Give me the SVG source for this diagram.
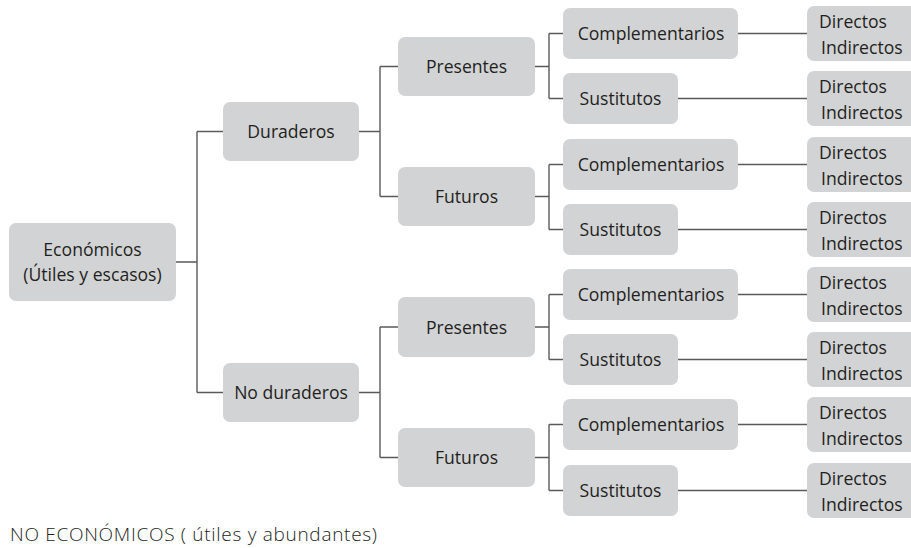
<svg xmlns="http://www.w3.org/2000/svg" width="911" height="548" viewBox="0 0 911 548">
<style>
.box{fill:#d2d3d5;}
.t{font-family:"Open Sans","Noto Sans","Liberation Sans",sans-serif;font-size:17.6px;fill:#231f20;}
.c{text-anchor:middle;}
.con{fill:none;stroke:#5a5a5a;stroke-width:1.4;}
.foot{font-family:"Open Sans","Noto Sans","Liberation Sans",sans-serif;font-size:19px;font-weight:300;fill:#231f20;}
</style>
<rect width="911" height="548" fill="#ffffff"/>
<g id="connectors" class="con">
<path d="M176 262H197M197 131.5V392.5M197 131.5H223M197 392.5H223"/>
<path d="M359 131.5H380M380 66.5V196.5M380 66.5H398M380 196.5H398"/>
<path d="M359 392.5H380M380 327V457.5M380 327H398M380 457.5H398"/>
<path d="M535 66.5H549M549 33.5V98.5M549 33.5H563M549 98.5H563"/>
<path d="M535 196.5H549M549 164.5V229.5M549 164.5H563M549 229.5H563"/>
<path d="M535 327H549M549 294.5V359.5M549 294.5H563M549 359.5H563"/>
<path d="M535 457.5H549M549 424.5V490.5M549 424.5H563M549 490.5H563"/>
<path d="M738 33.5H807M678 98.5H807M738 164.5H807M678 229.5H807M738 294.5H807M678 359.5H807M738 424.5H807M678 490.5H807"/>
</g>
<g id="economicos"><rect class="box" x="9" y="223" width="167" height="78" rx="7"/><text class="t c" x="92.5" y="256">Económicos</text><text class="t c" x="92.5" y="281">(Útiles y escasos)</text></g>
<g id="duraderos"><rect class="box" x="223" y="102" width="136" height="59" rx="7"/><text class="t c" x="291" y="138">Duraderos</text></g>
<g id="noduraderos"><rect class="box" x="223" y="363" width="136" height="59" rx="7"/><text class="t c" x="291" y="399">No duraderos</text></g>
<g id="presentes1"><rect class="box" x="398" y="37" width="137" height="59" rx="7"/><text class="t c" x="466.5" y="73">Presentes</text></g>
<g id="futuros1"><rect class="box" x="398" y="167" width="137" height="59" rx="7"/><text class="t c" x="466.5" y="203">Futuros</text></g>
<g id="presentes2"><rect class="box" x="398" y="297" width="137" height="60" rx="7"/><text class="t c" x="466.5" y="333.5">Presentes</text></g>
<g id="futuros2"><rect class="box" x="398" y="428" width="137" height="59" rx="7"/><text class="t c" x="466.5" y="464">Futuros</text></g>
<g id="comp1"><rect class="box" x="563" y="8" width="175" height="51" rx="7"/><text class="t c" x="651" y="40">Complementarios</text></g>
<g id="sust1"><rect class="box" x="563" y="73" width="115" height="51" rx="7"/><text class="t c" x="620.5" y="105">Sustitutos</text></g>
<g id="comp2"><rect class="box" x="563" y="139" width="175" height="51" rx="7"/><text class="t c" x="651" y="171">Complementarios</text></g>
<g id="sust2"><rect class="box" x="563" y="204" width="115" height="51" rx="7"/><text class="t c" x="620.5" y="236">Sustitutos</text></g>
<g id="comp3"><rect class="box" x="563" y="269" width="175" height="51" rx="7"/><text class="t c" x="651" y="301">Complementarios</text></g>
<g id="sust3"><rect class="box" x="563" y="334" width="115" height="51" rx="7"/><text class="t c" x="620.5" y="366">Sustitutos</text></g>
<g id="comp4"><rect class="box" x="563" y="399" width="175" height="51" rx="7"/><text class="t c" x="651" y="431">Complementarios</text></g>
<g id="sust4"><rect class="box" x="563" y="465" width="115" height="51" rx="7"/><text class="t c" x="620.5" y="497">Sustitutos</text></g>
<g id="di1"><rect class="box" x="807" y="6" width="112" height="55" rx="7"/><text class="t" x="819" y="27.5">Directos</text><text class="t" x="821" y="53.5">Indirectos</text></g>
<g id="di2"><rect class="box" x="807" y="71" width="112" height="55" rx="7"/><text class="t" x="819" y="92.5">Directos</text><text class="t" x="821" y="118.5">Indirectos</text></g>
<g id="di3"><rect class="box" x="807" y="137" width="112" height="55" rx="7"/><text class="t" x="819" y="158.5">Directos</text><text class="t" x="821" y="184.5">Indirectos</text></g>
<g id="di4"><rect class="box" x="807" y="202" width="112" height="55" rx="7"/><text class="t" x="819" y="223.5">Directos</text><text class="t" x="821" y="249.5">Indirectos</text></g>
<g id="di5"><rect class="box" x="807" y="267" width="112" height="55" rx="7"/><text class="t" x="819" y="288.5">Directos</text><text class="t" x="821" y="314.5">Indirectos</text></g>
<g id="di6"><rect class="box" x="807" y="332" width="112" height="55" rx="7"/><text class="t" x="819" y="353.5">Directos</text><text class="t" x="821" y="379.5">Indirectos</text></g>
<g id="di7"><rect class="box" x="807" y="397" width="112" height="55" rx="7"/><text class="t" x="819" y="418.5">Directos</text><text class="t" x="821" y="444.5">Indirectos</text></g>
<g id="di8"><rect class="box" x="807" y="463" width="112" height="55" rx="7"/><text class="t" x="819" y="484.5">Directos</text><text class="t" x="821" y="510.5">Indirectos</text></g>
<text class="foot" x="10" y="541" textLength="367" lengthAdjust="spacing">NO ECONÓMICOS ( útiles y abundantes)</text>
</svg>
